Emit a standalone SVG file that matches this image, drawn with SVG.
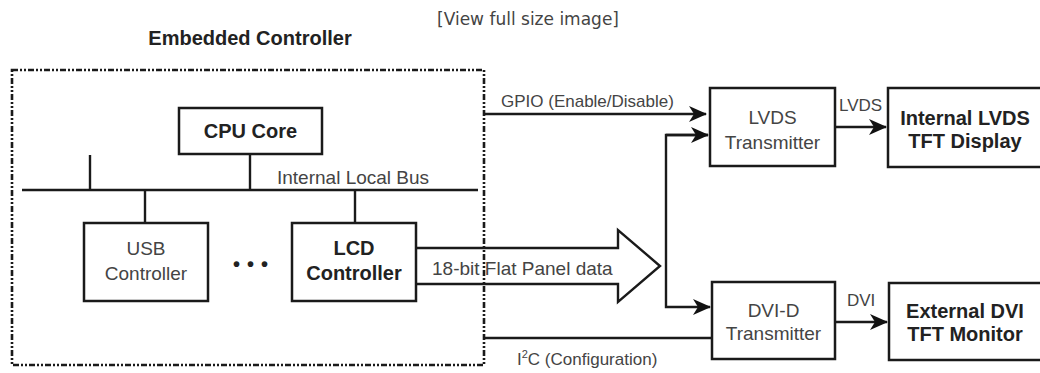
<svg xmlns="http://www.w3.org/2000/svg" width="1040" height="373" viewBox="0 0 1040 373">
<defs>
<style>
.box{fill:#fff;stroke:#1a1a1a;stroke-width:2.5}
.ln{fill:none;stroke:#1a1a1a;stroke-width:2.4}
.t{font-family:"Liberation Sans",Arial,sans-serif;font-size:19px;fill:#444}
.b{font-family:"Liberation Sans",Arial,sans-serif;font-size:20px;font-weight:bold;fill:#222}
.s{font-family:"Liberation Sans",Arial,sans-serif;font-size:17px;fill:#444}
.m{text-anchor:middle}
</style>
<marker id="ah" markerWidth="18" markerHeight="16" refX="17" refY="8" orient="auto" markerUnits="userSpaceOnUse">
<path d="M0,0 L18,8 L0,16 L5,8 Z" fill="#111"/>
</marker>
</defs>
<rect width="1040" height="373" fill="#fff"/>
<text x="528" y="25" text-anchor="middle" font-family="DejaVu Sans,Verdana,sans-serif" font-size="17" fill="#444">[View full size image]</text>
<text class="b m" x="250" y="45">Embedded Controller</text>

<g id="connectors">
<line class="ln" x1="22" y1="190" x2="478" y2="190"/>
<line class="ln" x1="90" y1="155" x2="90" y2="190"/>
<line class="ln" x1="250" y1="154" x2="250" y2="190"/>
<line class="ln" x1="145" y1="190" x2="145" y2="223"/>
<line class="ln" x1="355" y1="190" x2="355" y2="223"/>
<text class="t" x="277" y="184">Internal Local Bus</text>
<path d="M416,248 H618 V230 L660,266 L618,302 V284 H416" fill="#fff" stroke="#1a1a1a" stroke-width="2.4"/>
<text class="t" x="432" y="275">18-bit Flat Panel data</text>
<line class="ln" x1="484" y1="114" x2="706" y2="114" marker-end="url(#ah)"/>
<text class="s" x="501" y="107">GPIO (Enable/Disable)</text>
<path class="ln" d="M708,135 H666 V307 H710" marker-end="url(#ah)"/>
<line class="ln" x1="666" y1="135" x2="708" y2="135" marker-end="url(#ah)"/>
<line class="ln" x1="835" y1="127" x2="886" y2="127" marker-end="url(#ah)"/>
<text class="s" x="839" y="111" font-size="16">LVDS</text>
<line class="ln" x1="835" y1="322" x2="887" y2="322" marker-end="url(#ah)"/>
<text class="s" x="847" y="306" font-size="15">DVI</text>
<line class="ln" x1="484" y1="338" x2="712" y2="338"/>
<text class="s" x="517" y="365">I<tspan dy="-7" font-size="11">2</tspan><tspan dy="7">C (Configuration)</tspan></text>
</g>

<g id="cpu">
<rect class="box" x="179" y="108" width="143" height="46"/>
<text class="b m" x="250.5" y="138">CPU Core</text>
</g>
<g id="usb">
<rect class="box" x="84" y="223" width="124" height="78"/>
<text class="t m" x="146" y="255">USB</text>
<text class="t m" x="146" y="280">Controller</text>
</g>
<g id="dots">
<text class="b m" x="254" y="271" font-size="22" letter-spacing="7" fill="#111">•••</text>
</g>
<g id="lcd">
<rect class="box" x="292" y="223" width="124" height="78"/>
<text class="b m" x="354" y="255">LCD</text>
<text class="b m" x="354" y="280">Controller</text>
</g>
<g id="lvds-tx">
<rect class="box" x="710" y="88" width="125" height="78"/>
<text class="t m" x="772.5" y="124">LVDS</text>
<text class="t m" x="772.5" y="149">Transmitter</text>
</g>
<g id="lvds-display">
<rect class="box" x="888" y="88" width="170" height="79"/>
<text class="b m" x="965" y="125">Internal LVDS</text>
<text class="b m" x="965" y="148">TFT Display</text>
</g>
<g id="dvi-tx">
<rect class="box" x="712" y="282" width="123" height="77"/>
<text class="t m" x="773.5" y="317">DVI-D</text>
<text class="t m" x="773.5" y="340">Transmitter</text>
</g>
<g id="dvi-monitor">
<rect class="box" x="889" y="283" width="170" height="77"/>
<text class="b m" x="965" y="318">External DVI</text>
<text class="b m" x="965" y="341">TFT Monitor</text>
</g>
<g id="embedded-controller">
<rect x="12" y="70" width="472" height="295" fill="none" stroke="#1a1a1a" stroke-width="2.6" stroke-dasharray="6 2 2 2 2 2"/>
</g>
</svg>
